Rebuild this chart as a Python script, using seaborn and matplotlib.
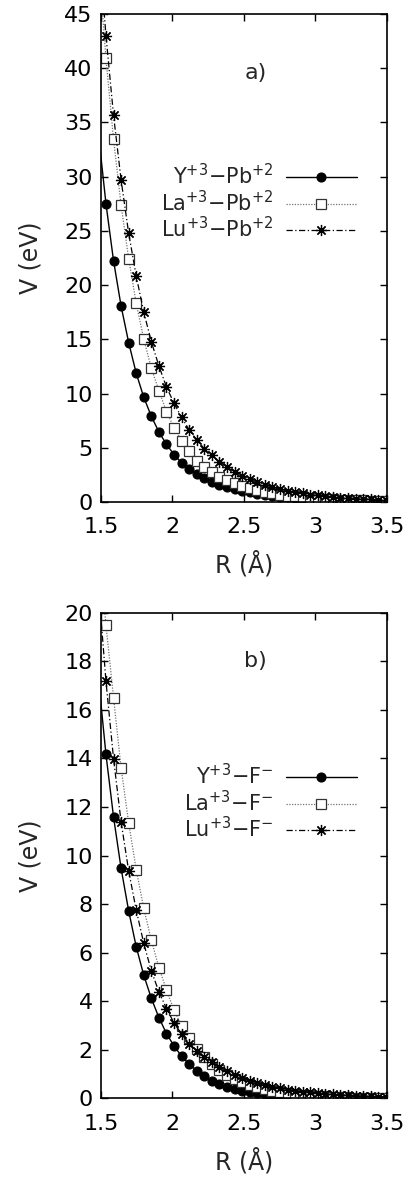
import matplotlib
matplotlib.use('Agg')
import matplotlib.pyplot as plt
import seaborn as sns

# ---------------- data ----------------
# R grid (Angstrom); first point lies just left of the plotted range (line only)
R = [1.4817, 1.5346, 1.5875, 1.6404, 1.6934, 1.7463, 1.7992, 1.8521, 1.9050,
     1.9580, 2.0109, 2.0638, 2.1167, 2.1696, 2.2225, 2.2755, 2.3284, 2.3813,
     2.4342, 2.4871, 2.5400, 2.5930, 2.6459, 2.6988, 2.7517, 2.8046, 2.8576,
     2.9105, 2.9634, 3.0163, 3.0692, 3.1221, 3.1751, 3.2280, 3.2809, 3.3338,
     3.3867, 3.4397, 3.4926]

# panel a) : cation - Pb+2
Y_Pb = [34.0, 27.5, 22.25, 18.07, 14.7, 11.87, 9.65, 7.9, 6.45, 5.32, 4.36, 3.6, 3.0,
        2.55, 2.17, 1.86, 1.60, 1.38, 1.19, 1.02, 0.88, 0.76, 0.65, 0.56, 0.48, 0.42,
        0.36, 0.31, 0.27, 0.23, 0.20, 0.17, 0.15, 0.13, 0.11, 0.10, 0.09, 0.08, 0.07]
La_Pb = [50.0, 40.9, 33.45, 27.36, 22.44, 18.32, 15.0, 12.33, 10.27, 8.33, 6.85, 5.63,
         4.70, 3.80, 3.25, 2.72, 2.32, 2.00, 1.72, 1.47, 1.26, 1.08, 0.93, 0.80, 0.69,
         0.59, 0.51, 0.44, 0.38, 0.33, 0.28, 0.24, 0.21, 0.18, 0.16, 0.14, 0.12, 0.10,
         0.09]
Lu_Pb = [51.9, 43.0, 35.66, 29.7, 24.78, 20.84, 17.49, 14.78, 12.54, 10.6, 9.1, 7.8,
         6.65, 5.72, 4.92, 4.30, 3.72, 3.24, 2.80, 2.43, 2.10, 1.82, 1.58, 1.37, 1.19,
         1.04, 0.90, 0.79, 0.69, 0.60, 0.52, 0.46, 0.40, 0.35, 0.31, 0.27, 0.24, 0.21,
         0.19]

# panel b) : cation - F-
Y_F = [17.3, 14.16, 11.59, 9.47, 7.72, 6.24, 5.07, 4.12, 3.33, 2.67, 2.16, 1.74, 1.41,
       1.14, 0.92, 0.74, 0.60, 0.49, 0.40, 0.32, 0.26, 0.21, 0.17, 0.14, 0.11, 0.09,
       0.075, 0.06, 0.05, 0.04, 0.033, 0.027, 0.022, 0.018, 0.015, 0.012, 0.01, 0.008,
       0.007]
La_F = [23.0, 19.48, 16.5, 13.6, 11.34, 9.42, 7.82, 6.51, 5.39, 4.46, 3.63, 2.99, 2.47,
        2.05, 1.70, 1.41, 1.17, 0.97, 0.80, 0.67, 0.55, 0.46, 0.38, 0.32, 0.26, 0.22,
        0.18, 0.15, 0.12, 0.10, 0.085, 0.07, 0.058, 0.048, 0.04, 0.033, 0.027, 0.023,
        0.019]
Lu_F = [21.1, 17.17, 13.99, 11.38, 9.37, 7.75, 6.38, 5.25, 4.39, 3.70, 3.11, 2.65, 2.26,
        1.96, 1.71, 1.50, 1.30, 1.12, 0.97, 0.84, 0.73, 0.63, 0.55, 0.48, 0.42, 0.37,
        0.32, 0.28, 0.25, 0.22, 0.19, 0.17, 0.15, 0.13, 0.12, 0.10, 0.09, 0.08, 0.07]

labels_a = [r'Y$^{+3}$−Pb$^{+2}$', r'La$^{+3}$−Pb$^{+2}$', r'Lu$^{+3}$−Pb$^{+2}$']
labels_b = [r'Y$^{+3}$−F$^{-}$', r'La$^{+3}$−F$^{-}$', r'Lu$^{+3}$−F$^{-}$']
xticks = [1.5, 2, 2.5, 3, 3.5]
yticks_a = [0, 5, 10, 15, 20, 25, 30, 35, 40, 45]
yticks_b = [0, 2, 4, 6, 8, 10, 12, 14, 16, 18, 20]

# ---------------- style ----------------
sns.set_theme(style='ticks')
plt.rcParams['font.family'] = ['DejaVu Sans']
plt.rcParams['mathtext.fontset'] = 'dejavusans'

styles = [
    dict(color='black', linestyle='-', linewidth=1.0, marker='o', markersize=6.5,
         markerfacecolor='black', markeredgecolor='black', markeredgewidth=0.8),
    dict(color='0.45', linestyle=(0, (1, 1.2)), linewidth=0.9, marker='s', markersize=6.5,
         markerfacecolor='white', markeredgecolor='0.2', markeredgewidth=0.9),
    dict(color='black', linestyle=(0, (5, 2, 1, 2)), linewidth=0.9, marker=(8, 2, 0),
         markersize=8, markerfacecolor='black', markeredgecolor='black',
         markeredgewidth=0.9),
]

fig = plt.figure(figsize=(4.09, 11.77), dpi=100)
ax_a = fig.add_axes([0.247, 0.5735, 0.699, 0.4146])
ax_b = fig.add_axes([0.247, 0.0667, 0.699, 0.4129])


def panel(ax, series, labels, yticks, ymax, tag, tag_y, leg_y):
    for vals, lab, st in zip(series, labels, styles):
        sns.lineplot(x=R, y=vals, ax=ax, sort=False, estimator=None, label=lab,
                     markevery=slice(1, None), **st)
    ax.set_xlim(1.5, 3.5)
    ax.set_ylim(0, ymax)
    ax.set_xticks(xticks)
    ax.set_xticklabels(['1.5', '2', '2.5', '3', '3.5'])
    ax.set_yticks(yticks)
    ax.tick_params(direction='in', top=True, right=True, length=5, width=1,
                   labelsize=16, color='black', labelcolor='black')
    ax.tick_params(axis='x', pad=11)
    ax.tick_params(axis='y', pad=6)
    for sp in ax.spines.values():
        sp.set_linewidth(1.2)
        sp.set_color('black')
        sp.set_visible(True)
    ax.set_xlabel('R (Å)', fontsize=17, labelpad=10)
    ax.set_ylabel('V (eV)', fontsize=17, labelpad=16)
    ax.text(2.58, tag_y, tag, fontsize=16, ha='center', va='center')
    ax.legend(loc='upper right', bbox_to_anchor=(0.895, leg_y), frameon=False,
              markerfirst=False, fontsize=15, handlelength=3.4, handletextpad=0.6,
              borderpad=0, borderaxespad=0, labelspacing=0.06, numpoints=1)


panel(ax_a, [Y_Pb, La_Pb, Lu_Pb], labels_a, yticks_a, 45, 'a)', 39.6, 0.694)
panel(ax_b, [Y_F, La_F, Lu_F], labels_b, yticks_b, 20, 'b)', 18.0, 0.69)

fig.savefig('out.png', dpi=100)
